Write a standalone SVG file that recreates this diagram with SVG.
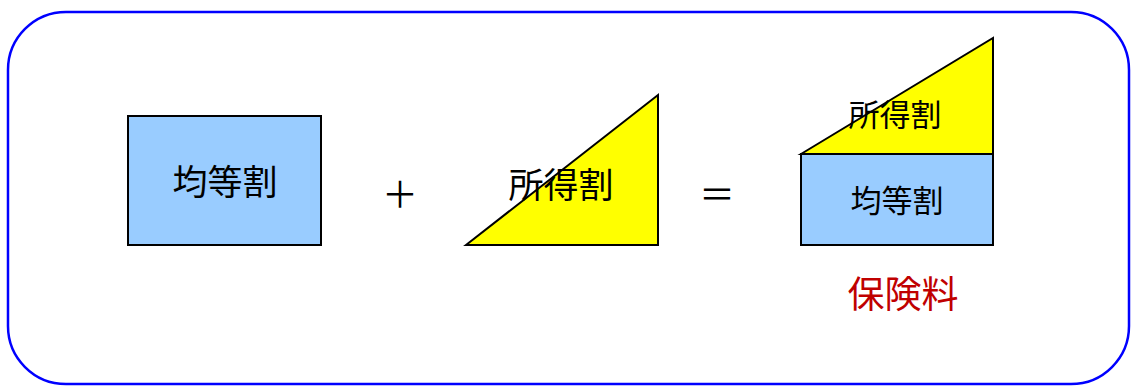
<svg xmlns="http://www.w3.org/2000/svg" width="1131" height="386" viewBox="0 0 1131 386">
<style>
.t{font-family:"Noto Sans CJK JP","Noto Sans",sans-serif;fill:#000;text-anchor:middle;dominant-baseline:central}
.blue{fill:#99ccff;stroke:#000;stroke-width:2}
.yel{fill:#ffff00;stroke:#000;stroke-width:2;stroke-linejoin:miter}
</style>
<rect x="8" y="12" width="1121" height="372" rx="58" ry="58" fill="#fff" stroke="#0000ff" stroke-width="2.5"/>
<g id="kintou">
<rect class="blue" x="128" y="116" width="193" height="129"/>
<text class="t" x="225" y="179" font-size="35">均等割</text>
</g>
<g id="plus"><text class="t" x="400" y="192" font-size="36">＋</text></g>
<g id="shotoku">
<polygon class="yel" points="466,245 658,95 658,245"/>
<text class="t" x="561" y="182" font-size="35">所得割</text>
</g>
<g id="equals"><text class="t" x="717" y="192" font-size="36">＝</text></g>
<g id="total">
<polygon class="yel" points="801,154 993,38 993,154"/>
<rect class="blue" x="801" y="154" width="192" height="91"/>
<text class="t" x="895" y="112" font-size="31">所得割</text>
<text class="t" x="897" y="198" font-size="31">均等割</text>
<text class="t" x="903" y="292" font-size="37" style="fill:#c00000">保険料</text>
</g>
<g id="connectors"/>
</svg>
